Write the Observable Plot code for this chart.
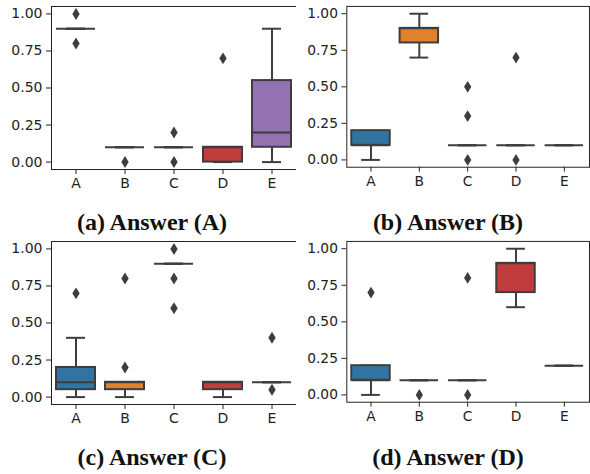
<!DOCTYPE html>
<html>
<head>
<meta charset="utf-8">
<script src="https://cdn.jsdelivr.net/npm/d3@7"></script>
<script src="https://cdn.jsdelivr.net/npm/@observablehq/plot@0.6"></script>
<style>
  html, body { margin: 0; padding: 0; background: #fff; }
  #root { position: relative; width: 590px; height: 474px; overflow: hidden; }
  .panel { position: absolute; overflow: hidden; }
  .panel svg text { font-size: 14px !important; font-family: "DejaVu Sans", sans-serif !important; fill: #222; }
  .title { position: absolute; width: 300px; text-align: center;
           font-family: "Liberation Serif", "Times New Roman", serif;
           font-weight: bold; font-size: 24px; color: #111; line-height: 1; }
</style>
</head>
<body>
<div id="root"></div>
<script>
// ---- data ----
const categories = ["A", "B", "C", "D", "E"];
const panelTitles = ["(a) Answer (A)", "(b) Answer (B)", "(c) Answer (C)", "(d) Answer (D)"];
const palette = ["#3274a1", "#e1812c", "#3a923a", "#c03d3e", "#9372b2"];
const yTicks = [0, 0.25, 0.5, 0.75, 1.0];

// per panel, per category A..E
const q1 =          [[0.9, 0.1, 0.1, 0.0, 0.1],  [0.1, 0.8, 0.1, 0.1, 0.1],  [0.05, 0.05, 0.9, 0.05, 0.1], [0.1, 0.1, 0.1, 0.7, 0.2]];
const median =      [[0.9, 0.1, 0.1, 0.1, 0.2],  [0.1, 0.9, 0.1, 0.1, 0.1],  [0.1, 0.1, 0.9, 0.1, 0.1],    [0.1, 0.1, 0.1, 0.9, 0.2]];
const q3 =          [[0.9, 0.1, 0.1, 0.1, 0.55], [0.2, 0.9, 0.1, 0.1, 0.1],  [0.2, 0.1, 0.9, 0.1, 0.1],    [0.2, 0.1, 0.1, 0.9, 0.2]];
const whiskerLow =  [[0.9, 0.1, 0.1, 0.0, 0.0],  [0.0, 0.7, 0.1, 0.1, 0.1],  [0.0, 0.0, 0.9, 0.0, 0.1],    [0.0, 0.1, 0.1, 0.6, 0.2]];
const whiskerHigh = [[0.9, 0.1, 0.1, 0.1, 0.9],  [0.2, 1.0, 0.1, 0.1, 0.1],  [0.4, 0.1, 0.9, 0.1, 0.1],    [0.2, 0.1, 0.1, 1.0, 0.2]];
const outliers = [
  [["A", 1.0], ["A", 0.8], ["B", 0.0], ["C", 0.2], ["C", 0.0], ["D", 0.7]],
  [["C", 0.5], ["C", 0.3], ["C", 0.0], ["D", 0.7], ["D", 0.0]],
  [["A", 0.7], ["B", 0.8], ["B", 0.2], ["C", 1.0], ["C", 0.8], ["C", 0.6], ["E", 0.4], ["E", 0.05]],
  [["A", 0.7], ["B", 0.0], ["C", 0.8], ["C", 0.0]]
];

// ---- drawing ----
const lineGray = "#3d3d3d";
const thinDiamond = {
  draw(context, size) {
    const r = Math.sqrt(size / Math.PI);
    const h = r * 1.3, w = r * 0.8;
    context.moveTo(0, -h);
    context.lineTo(w, 0);
    context.lineTo(0, h);
    context.lineTo(-w, 0);
    context.closePath();
  }
};

const positions = [[0, 0], [296, 0], [0, 235], [296, 235]];
const root = document.getElementById("root");

panelTitles.forEach((title, p) => {
  const rows = categories.map((c, i) => ({
    cat: c, color: palette[i],
    q1: q1[p][i], med: median[p][i], q3: q3[p][i],
    lo: whiskerLow[p][i], hi: whiskerHigh[p][i]
  }));
  const outs = outliers[p].map(([cat, v]) => ({cat, v}));

  const chart = Plot.plot({
    width: 298,
    height: 200,
    marginLeft: 51,
    marginRight: 1,
    marginTop: 6,
    marginBottom: 31,
    style: {fontFamily: "DejaVu Sans, sans-serif", fontSize: "14px", color: "#222", background: "white"},
    x: {type: "band", domain: categories, paddingInner: 0.2, paddingOuter: 0.1, label: null, tickSize: 5, tickPadding: 4},
    y: {domain: [-0.05, 1.05], ticks: yTicks, tickFormat: ".2f", label: null, tickSize: 5, tickPadding: 4},
    color: {type: "identity"},
    marks: [
      Plot.ruleX(rows, {x: "cat", y1: "lo", y2: "q1", stroke: lineGray, strokeWidth: 2}),
      Plot.ruleX(rows, {x: "cat", y1: "q3", y2: "hi", stroke: lineGray, strokeWidth: 2}),
      Plot.tickY(rows, {x: "cat", y: "lo", stroke: lineGray, strokeWidth: 2, insetLeft: 10, insetRight: 10}),
      Plot.tickY(rows, {x: "cat", y: "hi", stroke: lineGray, strokeWidth: 2, insetLeft: 10, insetRight: 10}),
      Plot.barY(rows, {x: "cat", y1: "q1", y2: "q3", fill: "color", stroke: lineGray, strokeWidth: 2}),
      Plot.tickY(rows, {x: "cat", y: "med", stroke: lineGray, strokeWidth: 2}),
      Plot.dot(outs, {x: "cat", y: "v", r: 4.6, symbol: thinDiamond, fill: lineGray, stroke: "none"}),
      Plot.frame({stroke: "#222", strokeWidth: 1})
    ]
  });

  const div = document.createElement("div");
  div.className = "panel";
  div.style.left = positions[p][0] + "px";
  div.style.top = positions[p][1] + "px";
  div.style.width = Math.min(298, 590 - positions[p][0]) + "px";
  div.style.height = "200px";
  div.appendChild(chart);
  root.appendChild(div);

  const t = document.createElement("div");
  t.className = "title";
  t.textContent = title;
  t.style.left = (positions[p][0] + 2) + "px";
  t.style.top = (positions[p][1] + 210) + "px";
  root.appendChild(t);
});
</script>
</body>
</html>
